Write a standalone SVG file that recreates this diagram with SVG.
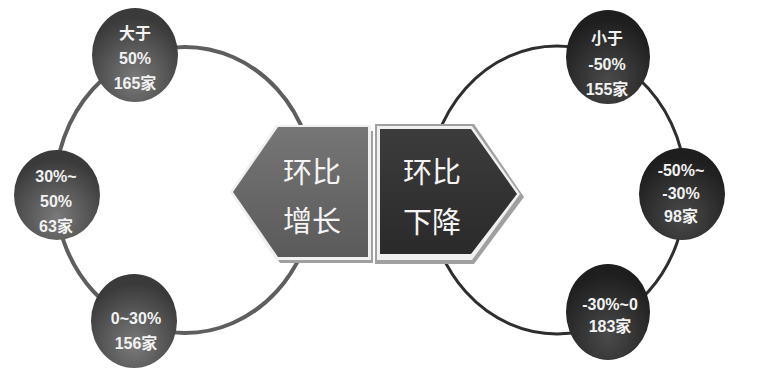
<svg xmlns="http://www.w3.org/2000/svg" width="777" height="385" viewBox="0 0 777 385">
<defs>
<radialGradient id="gL" cx="50%" cy="75%" r="65%">
<stop offset="0" stop-color="#7a7a7a"/><stop offset="1" stop-color="#3a3a3a"/>
</radialGradient>
<radialGradient id="gR" cx="50%" cy="75%" r="65%">
<stop offset="0" stop-color="#4a4a4a"/><stop offset="1" stop-color="#1e1e1e"/>
</radialGradient>
<linearGradient id="hL" x1="0" y1="0" x2="0" y2="1">
<stop offset="0" stop-color="#767676"/><stop offset="1" stop-color="#5a5a5a"/>
</linearGradient>
<linearGradient id="hR" x1="0" y1="0" x2="0" y2="1">
<stop offset="0" stop-color="#3c3c3c"/><stop offset="1" stop-color="#2a2a2a"/>
</linearGradient>
</defs>
<style>
.node text{font-family:"Liberation Sans","Noto Sans CJK SC",sans-serif;font-size:16px;font-weight:bold;fill:#f2f2f2;text-anchor:middle}
.hub text{font-family:"Noto Sans CJK SC","Liberation Sans",sans-serif;font-size:29px;fill:#f4f4f4;text-anchor:middle}
.ring{fill:none}
.shade{fill:#a0a0a0}
.frame{fill:#f0f0f0}
</style>
<rect width="777" height="385" fill="#ffffff"/>
<g id="connectors">
<ellipse class="ring" cx="185" cy="190" rx="130" ry="143" stroke="#5e5e5e" stroke-width="4"/>
<ellipse class="ring" cx="557" cy="190" rx="129" ry="144" stroke="#2e2e2e" stroke-width="3"/>
</g>
<g id="hub-up" class="hub">
<polygon class="shade" points="236,196 280,131 373,131 373,263 280,263"/>
<polygon class="frame" points="230,192 276,125 371,125 371,260 276,260"/>
<polygon points="233,192 278,127 368,127 368,257 278,257" fill="url(#hL)"/>
<text x="312" y="183">环比</text>
<text x="312" y="232">增长</text>
</g>
<g id="hub-down" class="hub">
<polygon class="shade" points="375,124 474,124 524,197 474,264 375,264"/>
<polygon class="frame" points="377,126 472,126 520,194 472,260 377,260"/>
<polygon points="380,129 471,129 517,194 471,254 380,254" fill="url(#hR)"/>
<text x="432" y="183">环比</text>
<text x="432" y="233">下降</text>
</g>
<g id="n1" class="node">
<ellipse cx="135" cy="55" rx="43" ry="47" fill="url(#gL)"/>
<text x="135" y="39">大于</text>
<text x="135" y="64">50%</text>
<text x="135" y="89">165家</text>
</g>
<g id="n2" class="node">
<ellipse cx="57" cy="195" rx="43" ry="45" fill="url(#gL)"/>
<text x="56" y="182">30%~</text>
<text x="56" y="207">50%</text>
<text x="56" y="232">63家</text>
</g>
<g id="n3" class="node">
<ellipse cx="134" cy="321" rx="43" ry="47" fill="url(#gL)"/>
<text x="136" y="324">0~30%</text>
<text x="136" y="349">156家</text>
</g>
<g id="n4" class="node">
<ellipse cx="608" cy="57" rx="42" ry="47" fill="url(#gR)"/>
<text x="607" y="44">小于</text>
<text x="607" y="70">-50%</text>
<text x="607" y="95">155家</text>
</g>
<g id="n5" class="node">
<ellipse cx="682" cy="194" rx="43" ry="46" fill="url(#gR)"/>
<text x="681" y="176">-50%~</text>
<text x="681" y="199">-30%</text>
<text x="681" y="222">98家</text>
</g>
<g id="n6" class="node">
<ellipse cx="608" cy="312" rx="42" ry="48" fill="url(#gR)"/>
<text x="610" y="310">-30%~0</text>
<text x="610" y="332">183家</text>
</g>
</svg>
